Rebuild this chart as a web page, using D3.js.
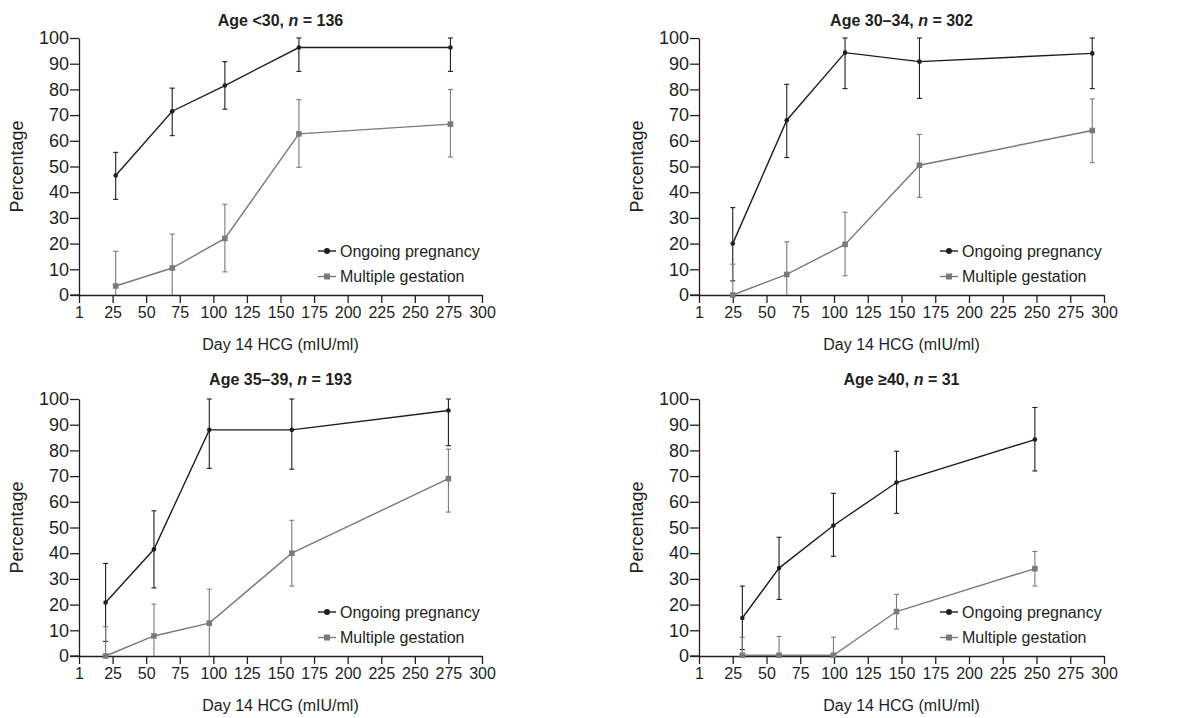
<!DOCTYPE html>
<html>
<head>
<meta charset="utf-8">
<script src="https://cdn.jsdelivr.net/npm/d3@7"></script>
<style>
  body { margin: 0; background: #fff; }
  svg text { font-family: "Liberation Sans", Arial, sans-serif; fill: #231f20; }
</style>
</head>
<body>
<svg id="chart"></svg>
<script>
// Panel titles
const titlePrefix = ['Age <30, ', 'Age 30\u201334, ', 'Age 35\u201339, ', 'Age \u226540, '];
const nValues = [136, 302, 193, 31];

// Axis ticks
const xTickValues = [0, 25, 50, 75, 100, 125, 150, 175, 200, 225, 250, 275, 300];
const xTickLabels = ['1', '25', '50', '75', '100', '125', '150', '175', '200', '225', '250', '275', '300'];
const yTickValues = [0, 10, 20, 30, 40, 50, 60, 70, 80, 90, 100];

// Day 14 HCG positions, per panel
const hcg = [
    [27.3, 69.4, 108.6, 163.7, 276.5],
    [25, 65, 108.2, 163.3, 291.3],
    [19.8, 55.8, 97, 158.4, 275],
    [32.1, 59.3, 99.6, 146.3, 248.8]
];

// Ongoing pregnancy (%), with lower / upper error limits
const ongoing = [
    [46.5, 71.5, 81.5, 96.3, 96.3],
    [20, 68, 94.3, 90.8, 94],
    [20.8, 41.5, 88, 88, 95.5],
    [14.8, 34.2, 50.8, 67.5, 84.2]
];
const ongoingLo = [
    [37.2, 62, 72.3, 87, 87],
    [5.5, 53.5, 80.3, 76.5, 80.3],
    [5.7, 26.5, 73, 72.7, 81.8],
    [2.5, 22, 38.8, 55.5, 72]
];
const ongoingHi = [
    [55.5, 80.5, 90.8, 100, 100],
    [34, 82, 100, 100, 100],
    [36, 56.5, 100, 100, 100],
    [27.2, 46.2, 63.3, 79.7, 96.7]
];

// Multiple gestation (%), with lower / upper error limits
const multiple = [
    [3.5, 10.5, 22, 62.7, 66.5],
    [0, 8, 19.7, 50.5, 64],
    [0, 7.8, 12.8, 40, 69],
    [0.3, 0.3, 0.3, 17.3, 34]
];
const multipleLo = [
    [0, 0, 9, 49.7, 53.7],
    [0, 0, 7.5, 38, 51.5],
    [0, 0, 0, 27.2, 56],
    [0, 0, 0, 10.5, 27.2]
];
const multipleHi = [
    [17, 23.7, 35.3, 76, 80],
    [12, 20.7, 32.2, 62.5, 76.3],
    [11.4, 20.2, 26, 52.8, 80.5],
    [7.3, 7.6, 7.3, 24, 40.7]
];

const legendLabels = ['Ongoing pregnancy', 'Multiple gestation'];

const config = {
    width: 1197,
    height: 718,
    panels: [
        { left: 79, top: 38, width: 403, height: 257 },
        { left: 699, top: 38, width: 405, height: 257 },
        { left: 79, top: 399, width: 403, height: 257 },
        { left: 699, top: 399, width: 405, height: 257 }
    ],
    ongoingColor: '#1e1e1e',
    multipleColor: '#7a7a7a',
    axisColor: '#231f20'
};

const svg = d3.select('#chart')
    .attr('width', config.width)
    .attr('height', config.height);

svg.append('rect')
    .attr('width', config.width)
    .attr('height', config.height)
    .attr('fill', '#fff');

config.panels.forEach((p, i) => {
    const g = svg.append('g')
        .attr('transform', `translate(${p.left}, ${p.top})`);

    const x = d3.scaleLinear().domain([0, 300]).range([0, p.width]);
    const y = d3.scaleLinear().domain([0, 100]).range([p.height, 0]);

    // Axes
    const xAxis = d3.axisBottom(x)
        .tickValues(xTickValues)
        .tickFormat((d, k) => xTickLabels[k])
        .tickSize(8)
        .tickSizeOuter(0)
        .tickPadding(4);
    const yAxis = d3.axisLeft(y)
        .tickValues(yTickValues)
        .tickSize(9)
        .tickSizeOuter(0)
        .tickPadding(1);

    const yG = g.append('g').call(yAxis);
    const xG = g.append('g')
        .attr('transform', `translate(0, ${p.height})`)
        .call(xAxis);

    [[xG, '16px'], [yG, '18px']].forEach(([a, size]) => {
        a.selectAll('path, line').attr('stroke', config.axisColor).attr('stroke-width', 1.3);
        a.selectAll('text')
            .style('font-size', size)
            .style('font-family', '"Liberation Sans", Arial, sans-serif')
            .attr('fill', '#231f20');
    });
    // x-axis line continues left under the y tick at 0
    g.append('line')
        .attr('x1', -9).attr('x2', 0)
        .attr('y1', p.height).attr('y2', p.height)
        .attr('stroke', config.axisColor).attr('stroke-width', 1.3);

    // Title
    const title = g.append('text')
        .attr('x', p.width / 2)
        .attr('y', i < 2 ? -12 : -14)
        .attr('text-anchor', 'middle')
        .style('font-size', '16px')
        .style('font-weight', 'bold');
    title.append('tspan').text(titlePrefix[i]);
    title.append('tspan').style('font-style', 'italic').text('n');
    title.append('tspan').text(' = ' + nValues[i]);

    // Axis labels
    g.append('text')
        .attr('x', p.width / 2)
        .attr('y', p.height + 55)
        .attr('text-anchor', 'middle')
        .style('font-size', '16px')
        .text('Day 14 HCG (mIU/ml)');

    g.append('text')
        .attr('transform', `translate(${-56}, ${p.height / 2}) rotate(-90)`)
        .attr('text-anchor', 'middle')
        .style('font-size', '18px')
        .text('Percentage');

    const series = [
        { vals: ongoing[i], lo: ongoingLo[i], hi: ongoingHi[i], color: config.ongoingColor, shape: 'circle' },
        { vals: multiple[i], lo: multipleLo[i], hi: multipleHi[i], color: config.multipleColor, shape: 'square' }
    ];

    series.forEach(s => {
        const pts = s.vals.map((v, k) => ({ x: hcg[i][k], v: v, lo: s.lo[k], hi: s.hi[k] }));

        // Error bars
        const eb = g.append('g');
        eb.selectAll('.bar')
            .data(pts)
            .join('line')
            .attr('x1', d => x(d.x)).attr('x2', d => x(d.x))
            .attr('y1', d => y(d.lo)).attr('y2', d => y(d.hi))
            .attr('stroke', s.color).attr('stroke-width', 1.1);
        eb.selectAll('.capHi')
            .data(pts)
            .join('line')
            .attr('x1', d => x(d.x) - 2.5).attr('x2', d => x(d.x) + 2.5)
            .attr('y1', d => y(d.hi)).attr('y2', d => y(d.hi))
            .attr('stroke', s.color).attr('stroke-width', 1.1);
        eb.selectAll('.capLo')
            .data(pts.filter(d => d.lo > 0))
            .join('line')
            .attr('x1', d => x(d.x) - 2.5).attr('x2', d => x(d.x) + 2.5)
            .attr('y1', d => y(d.lo)).attr('y2', d => y(d.lo))
            .attr('stroke', s.color).attr('stroke-width', 1.1);

        // Line
        const line = d3.line().x(d => x(d.x)).y(d => y(d.v));
        g.append('path')
            .datum(pts)
            .attr('d', line)
            .attr('fill', 'none')
            .attr('stroke', s.color)
            .attr('stroke-width', 1.4);

        // Markers
        if (s.shape === 'circle') {
            g.selectAll(null)
                .data(pts)
                .join('circle')
                .attr('cx', d => x(d.x)).attr('cy', d => y(d.v))
                .attr('r', 2.3)
                .attr('fill', s.color);
        } else {
            g.selectAll(null)
                .data(pts)
                .join('rect')
                .attr('x', d => x(d.x) - 2.8).attr('y', d => y(d.v) - 2.8)
                .attr('width', 5.6).attr('height', 5.6)
                .attr('fill', s.color);
        }
    });

    // Legend
    const lg = g.append('g')
        .attr('transform', `translate(${p.width - 164}, ${p.height - 44})`);
    legendLabels.forEach((label, k) => {
        const color = k === 0 ? config.ongoingColor : config.multipleColor;
        const row = lg.append('g').attr('transform', `translate(0, ${k * 25.5})`);
        row.append('line')
            .attr('x1', 0).attr('x2', 18)
            .attr('stroke', color).attr('stroke-width', 1.4);
        if (k === 0) {
            row.append('circle').attr('cx', 9).attr('r', 3).attr('fill', color);
        } else {
            row.append('rect').attr('x', 6).attr('y', -3).attr('width', 6).attr('height', 6).attr('fill', color);
        }
        row.append('text')
            .attr('x', 22)
            .attr('dy', '0.35em')
            .style('font-size', '16px')
            .text(label);
    });
});
</script>
</body>
</html>
